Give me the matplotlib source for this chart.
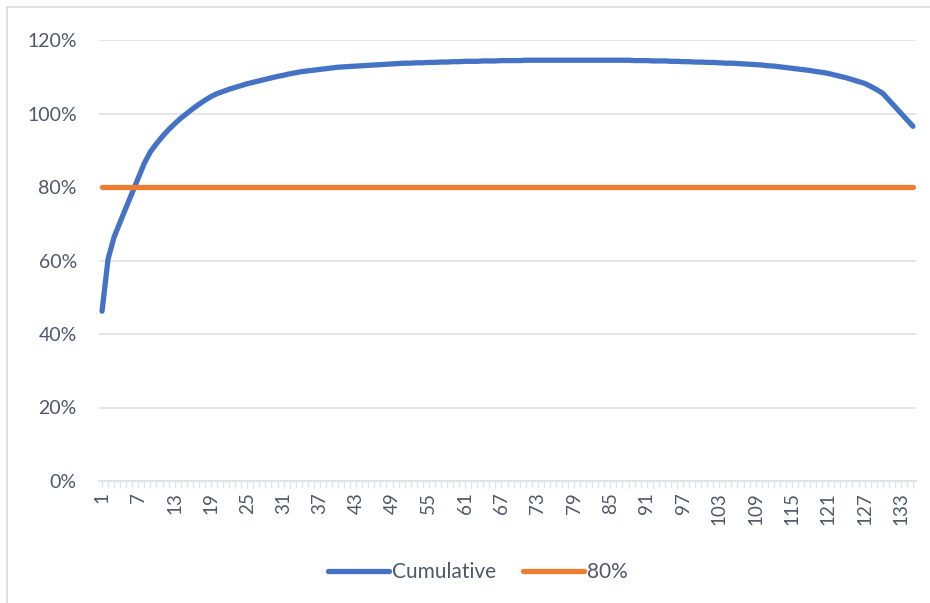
import matplotlib.pyplot as plt
from matplotlib.lines import Line2D
from matplotlib.ticker import PercentFormatter
import numpy as np

# cumulative share per item (percent), items 1..135
cumulative = [
    46.2, 60.4, 66.4, 70.5, 74.5, 78.5, 82.5, 86.5, 89.6, 91.8,
    93.8, 95.6, 97.2, 98.7, 100.0, 101.3, 102.5, 103.6, 104.6, 105.4,
    106.0, 106.6, 107.1, 107.6, 108.1, 108.5, 108.9, 109.3, 109.7, 110.1,
    110.4, 110.8, 111.1, 111.4, 111.6, 111.8, 112.0, 112.2, 112.4, 112.6,
    112.7, 112.8, 112.9, 113.0, 113.1, 113.2, 113.3, 113.4, 113.5, 113.6,
    113.7, 113.7, 113.8, 113.8, 113.9, 113.9, 114.0, 114.0, 114.1, 114.1,
    114.2, 114.2, 114.2, 114.3, 114.3, 114.3, 114.4, 114.4, 114.4, 114.4,
    114.5, 114.5, 114.5, 114.5, 114.5, 114.5, 114.5, 114.5, 114.5, 114.5,
    114.5, 114.5, 114.5, 114.5, 114.5, 114.5, 114.5, 114.5, 114.4, 114.4,
    114.4, 114.3, 114.3, 114.3, 114.2, 114.2, 114.1, 114.1, 114.0, 114.0,
    113.9, 113.9, 113.8, 113.7, 113.7, 113.6, 113.5, 113.4, 113.3, 113.2,
    113.0, 112.9, 112.7, 112.5, 112.3, 112.1, 111.9, 111.7, 111.4, 111.2,
    110.9, 110.5, 110.1, 109.7, 109.2, 108.7, 108.2, 107.4, 106.5, 105.5,
    103.7, 101.9, 100.1, 98.3, 96.5,
]
threshold = 80.0
items = np.arange(1, len(cumulative) + 1)
label_items = list(range(1, len(cumulative) + 1, 6))

text_col = '#4f5868'
grid_col = '#dfe2e6'

plt.rcParams['font.family'] = ['Lato', 'DejaVu Sans']

fig = plt.figure(figsize=(9.3, 6.03), dpi=100)
ax = fig.add_axes([99 / 930, 122 / 603, 817 / 930, 441 / 603])

ax.plot(items, np.array(cumulative) / 100, color='#4472C4', lw=3.8,
        solid_capstyle='round', solid_joinstyle='round', label='Cumulative', zorder=3)
ax.plot(items, np.full(len(items), threshold / 100), color='#ED7D31', lw=3.8,
        solid_capstyle='round', label='80%', zorder=3)

ax.set_xlim(0.5, len(cumulative) + 0.5)
ax.set_ylim(0, 1.2)
ax.set_yticks(np.arange(0, 1.21, 0.2))
ax.yaxis.set_major_formatter(PercentFormatter(1.0, decimals=0))
ax.grid(axis='y', color=grid_col, lw=1.2)
ax.set_axisbelow(True)

ax.set_xticks(label_items)
ax.set_xticklabels([str(i) for i in label_items], rotation=90)
ax.set_xticks(items, minor=True)
ax.tick_params(axis='x', which='both', length=5, color=grid_col, width=1,
               labelsize=13.5, labelcolor=text_col, pad=3)
ax.tick_params(axis='y', length=0, labelsize=14, labelcolor=text_col, pad=16)

for side in ['top', 'right', 'left']:
    ax.spines[side].set_visible(False)
ax.spines['bottom'].set_color(grid_col)
ax.spines['bottom'].set_linewidth(1.2)

ax.legend(loc='center', bbox_to_anchor=(478 / 930, 1 - 572 / 603),
          bbox_transform=fig.transFigure, ncol=2, frameon=False,
          fontsize=15, labelcolor=text_col, handlelength=2.9,
          handletextpad=0.15, columnspacing=1.3)

# chart area border
fig.add_artist(Line2D([7 / 930, 7 / 930, 1.0], [0.0, 1 - 7 / 603, 1 - 7 / 603],
                      transform=fig.transFigure, color='#d9d9d9', lw=1.2))

fig.savefig('out.png', dpi=100)
